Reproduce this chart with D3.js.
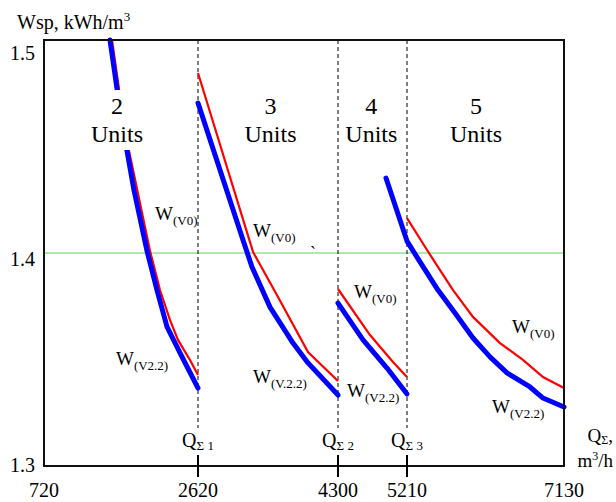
<!DOCTYPE html>
<html lang="en">
<head>
<meta charset="UTF-8">
<title>Wsp vs Q</title>
<script src="https://d3js.org/d3.v7.min.js"></script>
<style>
  body { margin: 0; background: #fff; }
  svg { display: block; }
  text { font-family: "Liberation Serif", "Times New Roman", serif; fill: #000; }
</style>
</head>
<body>
<svg width="616" height="502"></svg>
<script>
// axis values
const xTicks = [720, 2620, 4300, 5210, 7130];
const yTicks = [1.3, 1.4, 1.5];
const switchQ = [2620, 4300, 5210];
const switchNames = ["Σ 1", "Σ 2", "Σ 3"];

// number of working units per zone, and where their label sits (Q)
const unitCounts = ["2", "3", "4", "5"];
const unitLabelQ = [1621, 3490, 4740, 6054];

// W(V0) - red, W(V2.2) - blue, one array per zone [Q, Wsp]
const red1 = [[1559, 1.5], [1645, 1.477], [1769, 1.448], [2028, 1.401], [2151, 1.3826], [2275, 1.3685], [2373, 1.3592], [2521, 1.3498], [2620, 1.3427]];
const blue1 = [[1534, 1.5], [1621, 1.477], [1744, 1.448], [1830, 1.4296], [1991, 1.401], [2114, 1.3826], [2238, 1.3653], [2423, 1.3512], [2620, 1.3366]];
const red2 = [[2620, 1.4845], [3280, 1.4005], [3580, 1.3793], [3940, 1.3535], [4300, 1.3399]];
const blue2 = [[2620, 1.4704], [3160, 1.4061], [3268, 1.3934], [3484, 1.3746], [3760, 1.3577], [3940, 1.3484], [4300, 1.3333]];
const red3 = [[4300, 1.3831], [4722, 1.3615], [5025, 1.3488], [5210, 1.3418]];
const blue3 = [[4300, 1.3765], [4630, 1.3592], [4946, 1.346], [5210, 1.3338]];
const red4 = [[5210, 1.4164], [5455, 1.4014], [5614, 1.392], [5773, 1.3826], [6017, 1.37], [6347, 1.3577], [6628, 1.3498], [6873, 1.3418], [7130, 1.3366]];
const blue4 = [[4933, 1.4352], [5210, 1.4056], [5369, 1.3958], [5589, 1.3826], [5797, 1.3718], [6017, 1.3601], [6225, 1.3512], [6433, 1.3437], [6714, 1.3371], [6873, 1.3319], [7130, 1.3277]];

// curve labels: W + subscript, anchored at [Q, Wsp]
const curveLabels = [
  ["(V0)", 2090, 1.4155], ["(V0)", 3280, 1.4075], ["(V0)", 4511, 1.3789], ["(V0)", 6494, 1.3624],
  ["(V2.2)", 1608, 1.3474], ["(V.2.2)", 3280, 1.339], ["(V2.2)", 4419, 1.3324], ["(V2.2)", 6250, 1.3249]
];

const svg = d3.select("svg");

const x = d3.scaleLinear().domain(xTicks).range([44, 198, 338, 407, 564]);
const y = d3.scaleLinear().domain([1.3, 1.5]).range([466, 40]);
const yLab = d3.scaleLinear().domain([1.3, 1.5]).range([472, 60]);

const plotTop = y(1.5), plotBottom = y(1.3), plotLeft = x(720), plotRight = x(7130);

// grid line at 1.4
svg.append("line")
  .attr("x1", plotLeft).attr("x2", plotRight)
  .attr("y1", y(1.4)).attr("y2", y(1.4))
  .attr("stroke", "#62d062").attr("stroke-width", 1);

// dashed switch lines
svg.selectAll("line.sw")
  .data(switchQ)
  .enter().append("line")
  .attr("class", "sw")
  .attr("x1", d => x(d)).attr("x2", d => x(d))
  .attr("y1", plotTop).attr("y2", 428)
  .attr("stroke", "#000").attr("stroke-width", 1)
  .attr("stroke-dasharray", "4,3");

// curves
const line = d3.line().x(d => x(d[0])).y(d => y(d[1]));
[red1, red2, red3, red4].forEach(s => {
  svg.append("path").attr("d", line(s))
    .attr("fill", "none").attr("stroke", "#ff0000").attr("stroke-width", 2.2);
});
[blue1, blue2, blue3, blue4].forEach(s => {
  svg.append("path").attr("d", line(s))
    .attr("fill", "none").attr("stroke", "#0000ff").attr("stroke-width", 5)
    .attr("stroke-linecap", "round").attr("stroke-linejoin", "round");
});

// unit labels with white background
unitCounts.forEach((n, i) => {
  const g = svg.append("g");
  const cx = x(unitLabelQ[i]);
  g.append("text").attr("x", cx).attr("y", 114)
    .attr("text-anchor", "middle").attr("font-size", 24).text(n);
  g.append("text").attr("x", cx).attr("y", 142)
    .attr("text-anchor", "middle").attr("font-size", 24).text("Units");
  const b = g.node().getBBox();
  g.insert("rect", "text")
    .attr("x", b.x - 3).attr("y", b.y - 3)
    .attr("width", b.width + 6).attr("height", b.height + 6)
    .attr("fill", "#fff");
});

// curve labels
curveLabels.forEach(d => {
  const t = svg.append("text").attr("x", x(d[1])).attr("y", y(d[2])).attr("font-size", 19);
  t.append("tspan").text("W");
  t.append("tspan").attr("font-size", 13).attr("dy", 5).text(d[0]);
});

// stray mark
svg.append("text").attr("x", 310).attr("y", 259).attr("font-size", 18).text("`");

// frame
svg.append("rect")
  .attr("x", plotLeft).attr("y", plotTop)
  .attr("width", plotRight - plotLeft).attr("height", plotBottom - plotTop)
  .attr("fill", "none").attr("stroke", "#111").attr("stroke-width", 2);

// bottom ticks
svg.selectAll("line.tk")
  .data(switchQ)
  .enter().append("line")
  .attr("class", "tk")
  .attr("x1", d => x(d)).attr("x2", d => x(d))
  .attr("y1", 455).attr("y2", 477)
  .attr("stroke", "#000").attr("stroke-width", 2);

// Q labels
switchQ.forEach((q, i) => {
  const t = svg.append("text").attr("x", x(q)).attr("y", 447)
    .attr("text-anchor", "middle").attr("font-size", 20);
  t.append("tspan").text("Q");
  t.append("tspan").attr("font-size", 13).attr("dy", 3).text(switchNames[i]);
});

// x tick labels
svg.selectAll("text.xl")
  .data(xTicks)
  .enter().append("text")
  .attr("class", "xl")
  .attr("x", d => x(d)).attr("y", 497)
  .attr("text-anchor", "middle").attr("font-size", 20)
  .text(d => d);

// y tick labels
svg.selectAll("text.yl")
  .data(yTicks)
  .enter().append("text")
  .attr("class", "yl")
  .attr("x", 35).attr("y", d => yLab(d))
  .attr("text-anchor", "end").attr("font-size", 20)
  .text(d => d.toFixed(1));

// y title
const yt = svg.append("text").attr("x", 17).attr("y", 29).attr("font-size", 20);
yt.append("tspan").text("Wsp, kWh/m");
yt.append("tspan").attr("font-size", 13).attr("dy", -8).text("3");

// x title (two lines)
const xt1 = svg.append("text").attr("x", 613).attr("y", 442).attr("text-anchor", "end").attr("font-size", 19);
xt1.append("tspan").text("Q");
xt1.append("tspan").attr("font-size", 12).attr("dy", 2).text("Σ");
xt1.append("tspan").attr("dy", -2).text(",");
const xt2 = svg.append("text").attr("x", 613).attr("y", 467).attr("text-anchor", "end").attr("font-size", 19);
xt2.append("tspan").text("m");
xt2.append("tspan").attr("font-size", 12).attr("dy", -7).text("3");
xt2.append("tspan").attr("dy", 7).text("/h");
</script>
</body>
</html>
